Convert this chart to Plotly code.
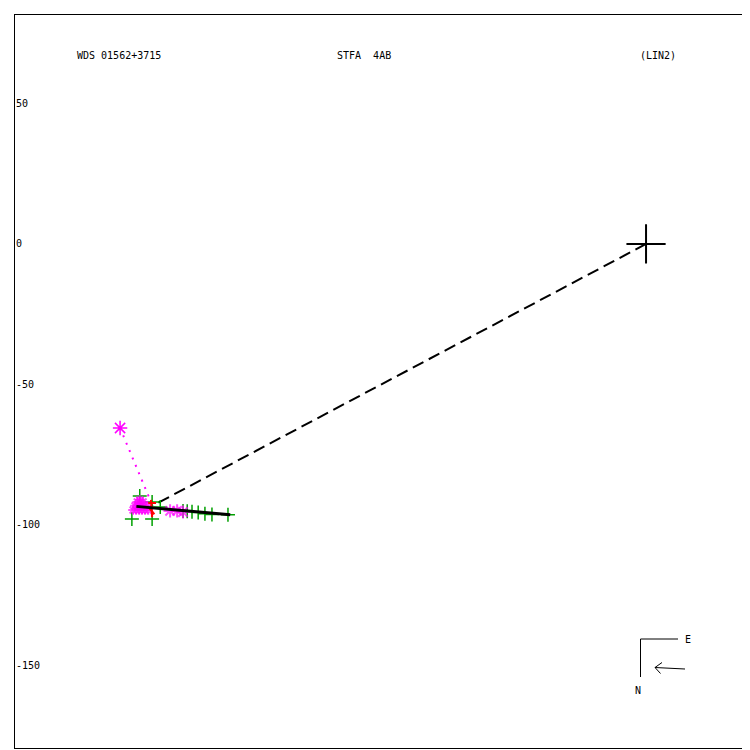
import plotly.graph_objects as go

# ---- data ----
primary_x = [0.0]
primary_y = [0.0]

dash_x = [0.0, -177.2]
dash_y = [0.0, -94.0]

fit_x = [-181.4, -148.0]
fit_y = [-93.4, -96.4]

outlier_x = [-187.2]
outlier_y = [-65.5]
dotted_x = [-187.2, -176.5]
dotted_y = [-65.5, -91.1]

green_x = [-180.2, -183.0, -175.8, -175.8, -172.9, -164.8, -163.3, -161.6, -159.4, -157.0, -154.5, -148.8]
green_y = [-89.7, -97.9, -97.9, -91.8, -93.6, -95.0, -95.1, -95.3, -95.6, -96.0, -96.3, -96.4]

# dense pile of magenta points (mound) plus a few spread along the track
mag_x = [-182.6, -181.5, -180.4, -179.4, -178.3, -177.2,
         -181.9, -180.8, -179.7, -178.6, -177.5,
         -181.1, -180.1, -179.0, -180.2,
         -169.4, -166.9, -164.8]
mag_y = [-94.7, -94.7, -94.7, -94.7, -94.7, -94.7,
         -93.2, -93.2, -93.2, -93.2, -93.2,
         -91.8, -91.8, -91.8, -91.1,
         -95.0, -95.0, -95.4]
mag_size = [8] * 15 + [11] * 3

red_seg_x = [[-176.2, -175.8], [-177.2, -174.4], [-176.8, -175.0], [-149.2, -148.2]]
red_seg_y = [[-91.1, -97.2], [-92.2, -92.2], [-94.0, -96.2], [-96.4, -96.4]]

yticks = [50, 0, -50, -100, -150]
title_left = "WDS 01562+3715"
title_mid = "STFA  4AB"
title_right = "(LIN2)"

FONT = dict(family="DejaVu Sans Mono", size=10, color="black")
GREEN = "#00a000"

fig = go.Figure()

fig.add_trace(go.Scatter(x=dash_x, y=dash_y, mode="lines",
                         line=dict(color="black", width=2, dash="12px,6px")))
fig.add_trace(go.Scatter(x=dotted_x, y=dotted_y, mode="lines",
                         line=dict(color="magenta", width=2, dash="2px,6px")))
fig.add_trace(go.Scatter(x=green_x, y=green_y, mode="markers",
                         marker=dict(symbol="cross-thin-open", size=10, color=GREEN,
                                     line=dict(color=GREEN, width=1.5))))
fig.add_trace(go.Scatter(x=mag_x, y=mag_y, mode="markers",
                         marker=dict(symbol="asterisk-open", size=mag_size, color="magenta",
                                     line=dict(color="magenta", width=2))))
fig.add_trace(go.Scatter(x=outlier_x, y=outlier_y, mode="markers",
                         marker=dict(symbol="asterisk-open", size=12, color="magenta",
                                     line=dict(color="magenta", width=1.5))))
for sx, sy in zip(red_seg_x, red_seg_y):
    fig.add_trace(go.Scatter(x=sx, y=sy, mode="lines",
                             line=dict(color="red", width=2)))
fig.add_trace(go.Scatter(x=fit_x, y=fit_y, mode="lines",
                         line=dict(color="black", width=3)))
fig.add_trace(go.Scatter(x=primary_x, y=primary_y, mode="markers",
                         marker=dict(symbol="cross-thin-open", size=28, color="black",
                                     line=dict(color="black", width=2))))

# page offset (browser body margin) and plot area in screen pixels
OFF = 8
L, T, W, H = 15, 15, 735, 733
def px(x):
    return (x - L) / W
def py(y):
    return (T + H - y) / H

shapes = [
    dict(type="line", xref="paper", yref="paper", x0=px(640.5), y0=py(639), x1=px(640.5), y1=py(677), line=dict(color="black", width=1)),
    dict(type="line", xref="paper", yref="paper", x0=px(640.5), y0=py(639), x1=px(678), y1=py(639), line=dict(color="black", width=1)),
    dict(type="line", xref="paper", yref="paper", x0=px(655), y0=py(667.5), x1=px(685), y1=py(669), line=dict(color="black", width=1)),
    dict(type="line", xref="paper", yref="paper", x0=px(655), y0=py(667.5), x1=px(662), y1=py(662.5), line=dict(color="black", width=1)),
    dict(type="line", xref="paper", yref="paper", x0=px(655), y0=py(667.5), x1=px(660.5), y1=py(673.5), line=dict(color="black", width=1)),
]

annotations = [
    dict(text=title_left, xref="paper", yref="paper", x=px(75), y=py(55), xanchor="left", yanchor="middle", showarrow=False, font=FONT),
    dict(text=title_mid, xref="paper", yref="paper", x=px(335), y=py(55), xanchor="left", yanchor="middle", showarrow=False, font=FONT),
    dict(text=title_right, xref="paper", yref="paper", x=px(638), y=py(55), xanchor="left", yanchor="middle", showarrow=False, font=FONT),
    dict(text="E", xref="paper", yref="paper", x=px(688), y=py(639), xanchor="center", yanchor="middle", showarrow=False, font=FONT),
    dict(text="N", xref="paper", yref="paper", x=px(638), y=py(690), xanchor="center", yanchor="middle", showarrow=False, font=FONT),
]

fig.update_layout(
    width=750, height=750,
    margin=dict(l=L - OFF, t=T - OFF, r=750 - (L - OFF) - W, b=750 - (T - OFF) - H),
    paper_bgcolor="white", plot_bgcolor="white",
    showlegend=False,
    shapes=shapes, annotations=annotations,
    xaxis=dict(range=[-224.6, 37.0], showgrid=False, zeroline=False,
               showticklabels=False, ticks="", showline=True, mirror=True,
               linecolor="black", linewidth=1),
    yaxis=dict(range=[-179.4, 81.5], showgrid=False, zeroline=False,
               tickvals=yticks, ticktext=[str(v) for v in yticks],
               ticklabelposition="inside", ticks="",
               tickfont=FONT, showline=True, mirror=False,
               linecolor="black", linewidth=1),
)

fig.write_html("out.html")
